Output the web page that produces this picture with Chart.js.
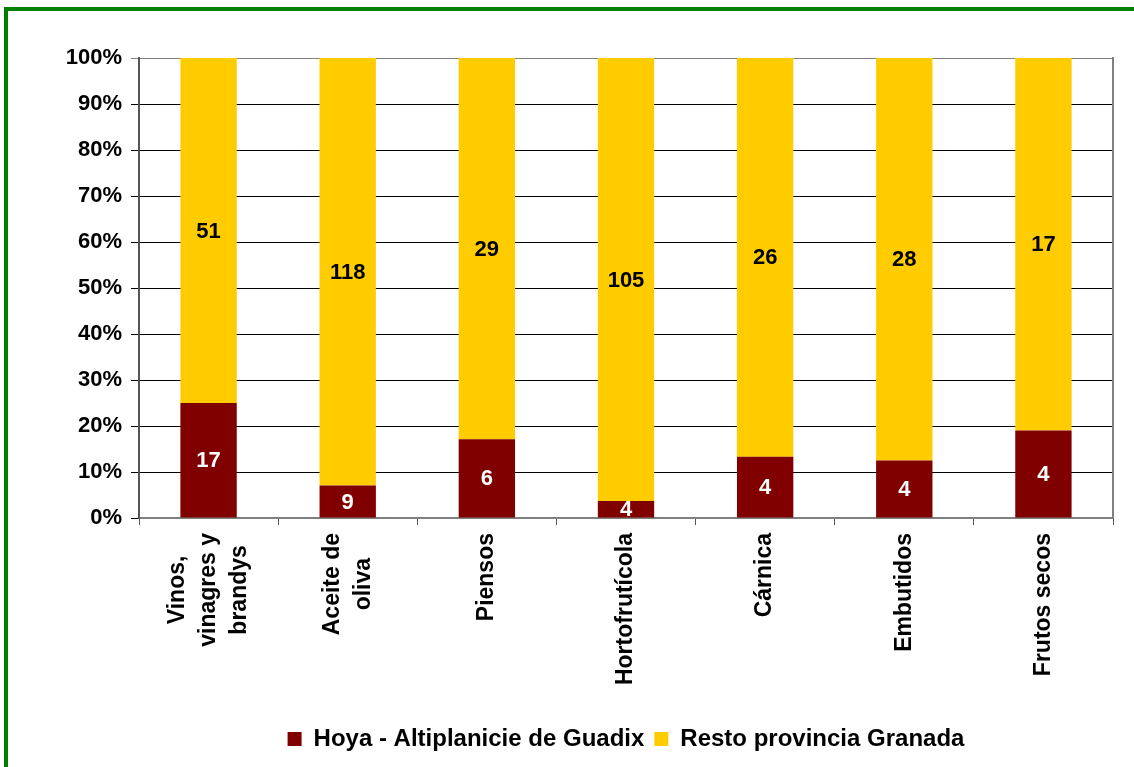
<!DOCTYPE html>
<html>
<head>
<meta charset="utf-8">
<script src="https://cdn.jsdelivr.net/npm/chart.js@4.4.1/dist/chart.umd.min.js"></script>
<style>
html, body { margin: 0; padding: 0; background: #ffffff; overflow: hidden; width: 1134px; height: 767px; }
#frame { position: absolute; left: 4px; top: 7px; width: 1300px; height: 900px; border: 4px solid #008000; box-sizing: border-box; }
#wrap { position: absolute; left: 0; top: 0; width: 1134px; height: 767px; }
</style>
</head>
<body>
<div id="frame"></div>
<div id="wrap"><canvas id="c" width="1134" height="767"></canvas></div>
<script>
// ---- Data ----
const categories = [
  ["Vinos,", "vinagres y", "brandys"],
  ["Aceite de", "oliva"],
  ["Piensos"],
  ["Hortofrutícola"],
  ["Cárnica"],
  ["Embutidos"],
  ["Frutos secos"]
];
const seriesNames = ["Hoya - Altiplanicie de Guadix", "Resto provincia Granada"];
const hoyaCounts = [17, 9, 6, 4, 4, 4, 4];
const restoCounts = [51, 118, 29, 105, 26, 28, 17];
const yTickValues = [0, 10, 20, 30, 40, 50, 60, 70, 80, 90, 100];

// share of each category total (100% stacked)
const totals = hoyaCounts.map((v, i) => v + restoCounts[i]);
const hoyaPct = hoyaCounts.map((v, i) => v / totals[i] * 100);
const restoPct = restoCounts.map((v, i) => v / totals[i] * 100);
const countsBySeries = [hoyaCounts, restoCounts];

const FONT = "'Liberation Sans', Arial, sans-serif";

const frameLines = {
  id: 'frameLines',
  afterDatasetsDraw(chart) {
    const { ctx, chartArea } = chart;
    ctx.save();
    ctx.strokeStyle = '#808080';
    ctx.lineWidth = 2;
    ctx.beginPath();
    ctx.moveTo(chartArea.right, chartArea.top - 1);
    ctx.lineTo(chartArea.right, chartArea.bottom);
    ctx.stroke();
    ctx.restore();
  }
};

const valueLabels = {
  id: 'valueLabels',
  afterDatasetsDraw(chart) {
    const { ctx } = chart;
    ctx.save();
    ctx.font = "bold 22px " + FONT;
    ctx.textAlign = 'center';
    ctx.textBaseline = 'middle';
    chart.data.datasets.forEach((ds, di) => {
      const meta = chart.getDatasetMeta(di);
      ctx.fillStyle = di === 0 ? '#ffffff' : '#000000';
      meta.data.forEach((el, j) => {
        const cy = (el.y + el.base) / 2;
        ctx.fillText(String(countsBySeries[di][j]), el.x, cy + 1);
      });
    });
    ctx.restore();
  }
};

const xLabels = {
  id: 'xLabels',
  afterDraw(chart) {
    const { ctx, chartArea } = chart;
    const xs = chart.scales.x;
    const lh = 31;
    const yTop = chartArea.bottom + 15;
    ctx.save();
    ctx.font = "bold 23px " + FONT;
    ctx.fillStyle = '#000';
    ctx.textAlign = 'center';
    ctx.textBaseline = 'middle';
    categories.forEach((lines, i) => {
      const x = xs.getPixelForValue(i);
      const w = Math.max(...lines.map(l => ctx.measureText(l).width));
      const n = lines.length;
      lines.forEach((line, k) => {
        ctx.save();
        ctx.translate(x, yTop + w / 2);
        ctx.rotate(-Math.PI / 2);
        ctx.fillText(line, 0, (k - (n - 1) / 2) * lh);
        ctx.restore();
      });
    });
    ctx.restore();
  }
};

new Chart(document.getElementById('c'), {
  type: 'bar',
  data: {
    labels: categories,
    datasets: [
      { label: seriesNames[0], data: hoyaPct, backgroundColor: '#800000', borderWidth: 0 },
      { label: seriesNames[1], data: restoPct, backgroundColor: '#FFCC00', borderWidth: 0 }
    ]
  },
  options: {
    responsive: false,
    animation: false,
    devicePixelRatio: 1,
    layout: { padding: { left: 0, right: 21, top: 58, bottom: 6 } },
    datasets: { bar: { categoryPercentage: 1.0, barPercentage: 0.405 } },
    plugins: {
      tooltip: { enabled: false },
      legend: {
        position: 'bottom',
        fullSize: false,
        labels: {
          color: '#000',
          font: { family: FONT, weight: 'bold', size: 24 },
          boxWidth: 14,
          boxHeight: 14,
          padding: 10
        }
      }
    },
    scales: {
      x: {
        stacked: true,
        afterFit(scale) { scale.height = 199; },
        grid: {
          offset: true,
          drawOnChartArea: false,
          drawTicks: true,
          tickLength: 7,
          color: '#555'
        },
        border: { color: '#808080', width: 2 },
        ticks: { display: false }
      },
      y: {
        stacked: true,
        min: 0,
        max: 100,
        afterFit(scale) { scale.width = 139; },
        afterBuildTicks(scale) { scale.ticks = yTickValues.map(v => ({ value: v })); },
        grid: {
          color: (c) => (c.tick && c.tick.value === 100) ? '#808080' : '#000000',
          lineWidth: 1,
          tickLength: 8
        },
        border: { color: '#555', width: 2 },
        ticks: {
          padding: 9,
          color: '#000',
          font: { family: FONT, weight: 'bold', size: 22 },
          callback: (v) => v + '%'
        }
      }
    }
  },
  plugins: [frameLines, valueLabels, xLabels]
});
</script>
</body>
</html>
